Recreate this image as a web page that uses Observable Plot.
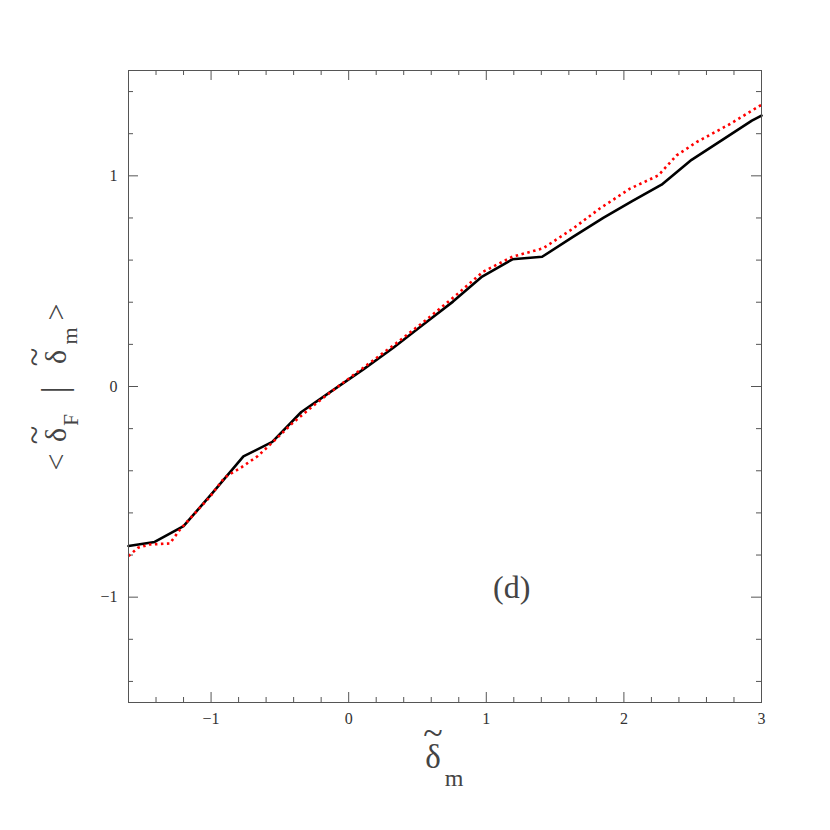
<!DOCTYPE html>
<html><head><meta charset="utf-8">
<script src="https://cdn.jsdelivr.net/npm/d3@7"></script>
<script src="https://cdn.jsdelivr.net/npm/@observablehq/plot@0.6"></script>
<style>body{margin:0;background:#fff}</style>
</head><body><div id="chart"></div>
<script>
// Data
const blackX = [-1.6, -1.41, -1.2, -0.98, -0.765, -0.555, -0.344, -0.135, 0.104, 0.322, 0.54, 0.758, 0.97, 1.19, 1.406, 1.63, 1.85, 2.06, 2.274, 2.492, 2.71, 2.93, 3.0];
const blackY = [-0.757, -0.738, -0.663, -0.498, -0.332, -0.263, -0.121, -0.027, 0.08, 0.183, 0.293, 0.403, 0.522, 0.604, 0.616, 0.71, 0.80, 0.88, 0.958, 1.076, 1.168, 1.262, 1.286];
const redX = [-1.6, -1.532, -1.447, -1.3, -1.222, -1.011, -0.902, -0.78, -0.66, -0.55, -0.405, -0.26, -0.138, 0.104, 0.347, 0.565, 0.783, 0.977, 1.19, 1.413, 1.631, 1.825, 2.044, 2.25, 2.383, 2.528, 2.771, 2.989, 3.0];
const redY = [-0.805, -0.766, -0.75, -0.745, -0.676, -0.526, -0.432, -0.384, -0.33, -0.263, -0.172, -0.093, -0.03, 0.088, 0.206, 0.317, 0.435, 0.545, 0.616, 0.656, 0.75, 0.845, 0.939, 1.002, 1.097, 1.16, 1.246, 1.333, 1.336];
const xMajor = [-1, 0, 1, 2, 3];
const yMajor = [-1, 0, 1];
const xMinor = [-1.6, -1.4, -1.2, -0.8, -0.6, -0.4, -0.2, 0.2, 0.4, 0.6, 0.8, 1.2, 1.4, 1.6, 1.8, 2.2, 2.4, 2.6, 2.8];
const yMinor = [-1.4, -1.2, -0.8, -0.6, -0.4, -0.2, 0.2, 0.4, 0.6, 0.8, 1.2, 1.4];
const panelLabel = ["(d)"];
const panelLabelPos = {x: 1.185, y: -0.955};

const black = blackX.map((x, i) => ({x, y: blackY[i]}));
const red = redX.map((x, i) => ({x, y: redY[i]}));

const W = 830, H = 830, mL = 128, mR = 69, mT = 70, mB = 128;
const pw = W - mL - mR, ph = H - mT - mB;
const axisColor = "#555";
const majorLen = 10, minorLen = 5;
const serif = "'Liberation Serif', 'DejaVu Serif', serif";
const fmt = d => (d < 0 ? "\u2212" : "") + Math.abs(d);

const plot = Plot.plot({
  width: W, height: H,
  marginLeft: mL, marginRight: mR, marginTop: mT, marginBottom: mB,
  x: {domain: [-1.6, 3]},
  y: {domain: [-1.5, 1.5]},
  style: {fontFamily: serif, background: "white", color: "#333"},
  marks: [
    // ticks, inward on all four sides
    Plot.tickX(xMajor, {x: d => d, insetTop: ph - majorLen, stroke: axisColor}),
    Plot.tickX(xMajor, {x: d => d, insetBottom: ph - majorLen, stroke: axisColor}),
    Plot.tickX(xMinor, {x: d => d, insetTop: ph - minorLen, stroke: axisColor}),
    Plot.tickX(xMinor, {x: d => d, insetBottom: ph - minorLen, stroke: axisColor}),
    Plot.tickY(yMajor, {y: d => d, insetRight: pw - majorLen, stroke: axisColor}),
    Plot.tickY(yMajor, {y: d => d, insetLeft: pw - majorLen, stroke: axisColor}),
    Plot.tickY(yMinor, {y: d => d, insetRight: pw - minorLen, stroke: axisColor}),
    Plot.tickY(yMinor, {y: d => d, insetLeft: pw - minorLen, stroke: axisColor}),
    Plot.axisX(xMajor, {tickSize: 0, tickPadding: 10, fontSize: 16, fontFamily: serif, fill: "#333", tickFormat: fmt, label: null}),
    Plot.axisY(yMajor, {tickSize: 0, tickPadding: 11, fontSize: 16, fontFamily: serif, fill: "#333", tickFormat: fmt, label: null}),
    Plot.line(black, {x: "x", y: "y", stroke: "black", strokeWidth: 2.6}),
    Plot.line(red, {x: "x", y: "y", stroke: "#ff0000", strokeWidth: 2.6, strokeLinecap: "butt", strokeDasharray: "2.5,3.5"}),
    Plot.text(panelLabel, {x: () => panelLabelPos.x, y: () => panelLabelPos.y, text: d => d, fontSize: 32, fill: "#444", fontFamily: serif}),
    Plot.frame({stroke: axisColor})
  ]
});

const svg = d3.select(plot);
function put(g, s, x, y, size) {
  g.append("text").attr("x", x).attr("y", y).attr("text-anchor", "middle")
    .attr("font-family", serif).attr("font-size", size).attr("fill", "#444").text(s);
}
// x-axis label
const gx = svg.append("g");
put(gx, "δ", 433, 768, 33);
put(gx, "~", 433, 745, 36);
put(gx, "m", 454, 786, 24);

// y-axis label (rotated)
const gy = svg.append("g").attr("transform", "translate(66,386) rotate(-90)");
put(gy, "<", -76, 0, 30);
put(gy, "δ", -49, 0, 30);
put(gy, "~", -49, -21, 34);
put(gy, "F", -34, 11.5, 21);
put(gy, "|", -4, 0, 36);
put(gy, "δ", 29, 0, 30);
put(gy, "~", 29, -21, 34);
put(gy, "m", 50, 10.7, 22);
put(gy, ">", 74, 0, 30);

document.getElementById("chart").appendChild(plot);
</script>
</body></html>
